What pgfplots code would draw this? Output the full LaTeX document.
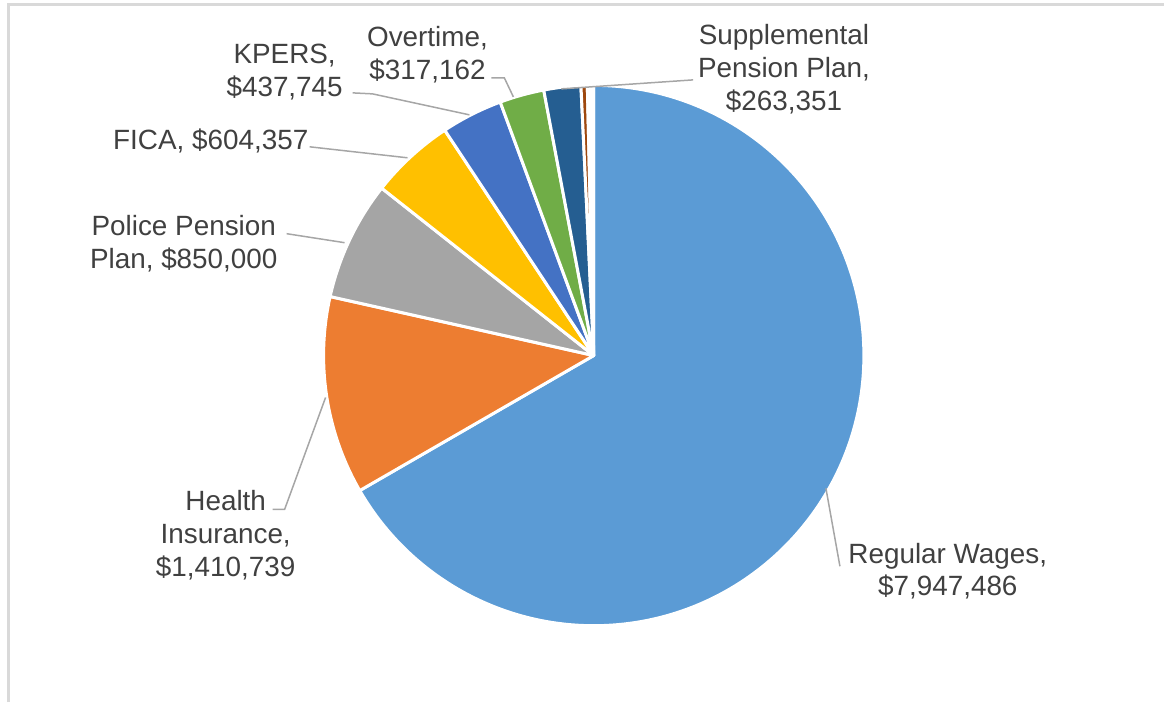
\documentclass[border=0pt]{standalone}
\usepackage{pgfplots}
\usepackage{pgfplotstable}
\pgfplotsset{compat=1.18}
\usepackage{fontspec}
\setmainfont{Liberation Sans}
\definecolor{c1}{HTML}{5B9BD5}
\definecolor{c2}{HTML}{ED7D31}
\definecolor{c3}{HTML}{A5A5A5}
\definecolor{c4}{HTML}{FFC000}
\definecolor{c5}{HTML}{4472C4}
\definecolor{c6}{HTML}{70AD47}
\definecolor{c7}{HTML}{255E91}
\definecolor{c8}{HTML}{9E480E}
\definecolor{labelc}{HTML}{404040}
\definecolor{leadc}{HTML}{A6A6A6}
\definecolor{bordc}{HTML}{D9D9D9}

\pgfplotstableread{
value color
7947486 c1
1410739 c2
850000 c3
604357 c4
437745 c5
317162 c6
263351 c7
45000 c8
45000 white
}\piedata

\begin{document}
\begin{tikzpicture}
\begin{axis}[x=1bp,y=1bp,xmin=0,xmax=1165,ymin=0,ymax=703,
  hide axis,clip=false,scale only axis]
\path (axis cs:0,0) rectangle (axis cs:1165,703);
\draw[bordc, line width=3bp] (axis cs:9,0) -- (axis cs:9,698.5) -- (axis cs:1165,698.5);

\pgfplotstablegetrowsof{\piedata}
\pgfmathtruncatemacro{\lastrow}{\pgfplotsretval-1}
\def\total{0}
\pgfplotsforeachungrouped \i in {0,...,\lastrow}{%
  \pgfplotstablegetelem{\i}{value}\of\piedata
  \edef\total{\fpeval{\total+\pgfplotsretval}}%
}
\def\cum{0}
\pgfplotsforeachungrouped \i in {0,...,\lastrow}{%
  \pgfplotstablegetelem{\i}{value}\of\piedata \let\v=\pgfplotsretval
  \pgfplotstablegetelem{\i}{color}\of\piedata \let\col=\pgfplotsretval
  \edef\a{\fpeval{round(90-360*\cum/\total,4)}}%
  \edef\cum{\fpeval{\cum+\v}}%
  \edef\b{\fpeval{round(90-360*\cum/\total,4)}}%
  \edef\tmp{\noexpand\fill[fill=\col, draw=white, line width=3bp, line join=round] (axis cs:594.5,347) -- ++(\a:270.5bp) arc[start angle=\a, end angle=\b, radius=270.5bp] -- cycle;}%
  \tmp
}

% leader lines
\begin{scope}[leadc, line width=1.5bp]
\draw (axis cs:827,214) -- (axis cs:841,136);
\draw (axis cs:273,193) -- (axis cs:285,193) -- (axis cs:326,305);
\draw (axis cs:287,469) -- (axis cs:345,460);
\draw (axis cs:310,556) -- (axis cs:408,545);
\draw (axis cs:353,610) -- (axis cs:373,609) -- (axis cs:470,588);
\draw (axis cs:492,625) -- (axis cs:505,625) -- (axis cs:514,606);
\draw (axis cs:694,623) -- (axis cs:562,614);
\end{scope}

% labels
\begin{scope}[every node/.style={align=center, text=labelc, inner sep=0pt,
   font=\fontsize{28}{33}\selectfont}]
\node at (axis cs:949,131) {Regular Wages,\\\$7,947,486};
\node at (axis cs:226,167) {Health\\Insurance,\\\$1,410,739};
\node at (axis cs:184,459) {Police Pension\\Plan, \$850,000};
\node at (axis cs:211,562) {FICA, \$604,357};
\node at (axis cs:285,631) {KPERS,\\\$437,745};
\node at (axis cs:428,648) {Overtime,\\\$317,162};
\node at (axis cs:785,634) {Supplemental\\Pension Plan,\\\$263,351};
\end{scope}
\end{axis}
\end{tikzpicture}
\end{document}
